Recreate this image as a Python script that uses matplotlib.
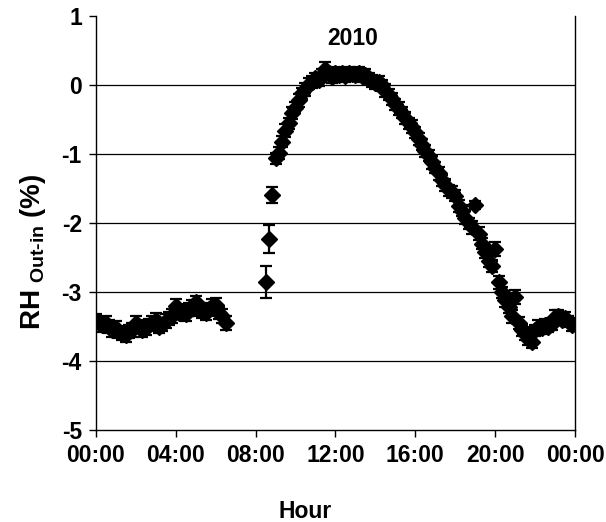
import numpy as np
import matplotlib
matplotlib.use("Agg")
import matplotlib.pyplot as plt

plt.rcParams["font.family"] = ["Liberation Sans", "DejaVu Sans"]
plt.rcParams["font.weight"] = "bold"
plt.rcParams["axes.unicode_minus"] = False
plt.rcParams["mathtext.fontset"] = "custom"
plt.rcParams["mathtext.rm"] = "Liberation Sans:bold"
plt.rcParams["mathtext.default"] = "rm"

# 10-minute means, night segment (00:00 - 06:30)
night_start_h = 0.0
night_rh = [-3.42, -3.45, -3.48, -3.44, -3.50, -3.55, -3.52, -3.58, -3.60, -3.62,
            -3.57, -3.55, -3.45, -3.50, -3.55, -3.52, -3.48, -3.45, -3.40, -3.50,
            -3.47, -3.42, -3.38, -3.35, -3.20, -3.30, -3.28, -3.32, -3.25, -3.22,
            -3.15, -3.25, -3.28, -3.30, -3.25, -3.20, -3.18, -3.30, -3.35, -3.45]
night_err = [0.10, 0.09, 0.10, 0.10, 0.09, 0.10, 0.10, 0.09, 0.10, 0.10,
             0.09, 0.10, 0.10, 0.09, 0.10, 0.10, 0.09, 0.10, 0.10, 0.09,
             0.10, 0.10, 0.09, 0.10, 0.10, 0.09, 0.10, 0.10, 0.09, 0.10,
             0.10, 0.09, 0.10, 0.10, 0.09, 0.10, 0.10, 0.09, 0.10, 0.10]

# 10-minute means, day segment (08:30 - 23:50)
day_start_h = 8.5
day_rh = [-2.85, -2.23, -1.59, -1.06, -0.98, -0.82, -0.66, -0.55, -0.40, -0.33,
          -0.22, -0.12, -0.06, 0.02, 0.05, 0.10, 0.08, 0.15, 0.24, 0.17,
          0.12, 0.18, 0.15, 0.17, 0.14, 0.18, 0.16, 0.15, 0.17, 0.13,
          0.15, 0.10, 0.06, 0.03, 0.04, 0.00, -0.08, -0.14, -0.20, -0.28,
          -0.34, -0.40, -0.48, -0.55, -0.60, -0.68, -0.78, -0.86, -0.95, -1.02,
          -1.12, -1.20, -1.28, -1.38, -1.45, -1.52, -1.55, -1.60, -1.75, -1.82,
          -1.92, -2.00, -2.06, -1.74, -2.15, -2.30, -2.42, -2.55, -2.62, -2.37,
          -2.86, -3.00, -3.12, -3.22, -3.35, -3.07, -3.45, -3.55, -3.60, -3.68,
          -3.72, -3.55, -3.50, -3.52, -3.48, -3.50, -3.46, -3.36, -3.35, -3.40,
          -3.38, -3.42, -3.47]
day_err = [0.23, 0.20, 0.12, 0.08, 0.09, 0.08, 0.09, 0.08, 0.09, 0.08,
           0.09, 0.08, 0.09, 0.08, 0.09, 0.08, 0.09, 0.08, 0.09, 0.08,
           0.09, 0.08, 0.09, 0.08, 0.09, 0.08, 0.09, 0.08, 0.09, 0.08,
           0.09, 0.08, 0.09, 0.08, 0.09, 0.08, 0.09, 0.08, 0.09, 0.08,
           0.09, 0.08, 0.09, 0.08, 0.09, 0.08, 0.09, 0.08, 0.09, 0.08,
           0.09, 0.08, 0.09, 0.08, 0.09, 0.08, 0.09, 0.08, 0.09, 0.08,
           0.09, 0.08, 0.09, 0.06, 0.09, 0.08, 0.09, 0.08, 0.09, 0.10,
           0.09, 0.08, 0.09, 0.08, 0.09, 0.10, 0.09, 0.08, 0.09, 0.08,
           0.09, 0.08, 0.09, 0.08, 0.09, 0.08, 0.09, 0.10, 0.09, 0.08,
           0.09, 0.08, 0.09]

tick_hours = [0, 4, 8, 12, 16, 20, 24]
tick_labels = ["00:00", "04:00", "08:00", "12:00", "16:00", "20:00", "00:00"]
y_ticks = [-5, -4, -3, -2, -1, 0, 1]

step = 1.0 / 6.0
night_h = night_start_h + step * np.arange(len(night_rh))
day_h = day_start_h + step * np.arange(len(day_rh))
hours = np.concatenate([night_h, day_h])
rh = np.array(night_rh + day_rh)
err = np.array(night_err + day_err)

fig = plt.figure(figsize=(6.06, 5.22), dpi=100)
ax = fig.add_axes([0.158, 0.176, 0.791, 0.793])

for y in y_ticks[1:-1]:
    ax.axhline(y, color="black", lw=0.9, zorder=1)

ax.errorbar(hours, rh, yerr=err, fmt="D", color="black", ms=8.5,
            ecolor="black", elinewidth=1.6, capsize=4.5, capthick=1.6, zorder=3)

ax.set_xlim(0, 24)
ax.set_ylim(-5, 1)
ax.set_xticks(tick_hours)
ax.set_xticklabels(tick_labels)
ax.set_yticks(y_ticks)
ax.tick_params(axis="both", direction="out", length=5, width=1, labelsize=16.5, pad=5)
ax.spines["top"].set_visible(False)
ax.spines["right"].set_visible(True)
for s in ["left", "bottom", "right"]:
    ax.spines[s].set_linewidth(1.0)

ax.set_xlabel("Hour", fontsize=16.5, fontweight="bold")
ax.xaxis.set_label_coords(0.436, -0.17)
ax.set_ylabel(r"RH$_{\ Out\text{-}in}$ (%)", fontsize=20, fontweight="bold")
ax.yaxis.set_label_coords(-0.10, 0.43)
ax.text(12.88, 0.68, "2010", fontsize=16.5, fontweight="bold", ha="center", va="center")

fig.savefig("out.png", dpi=100)
